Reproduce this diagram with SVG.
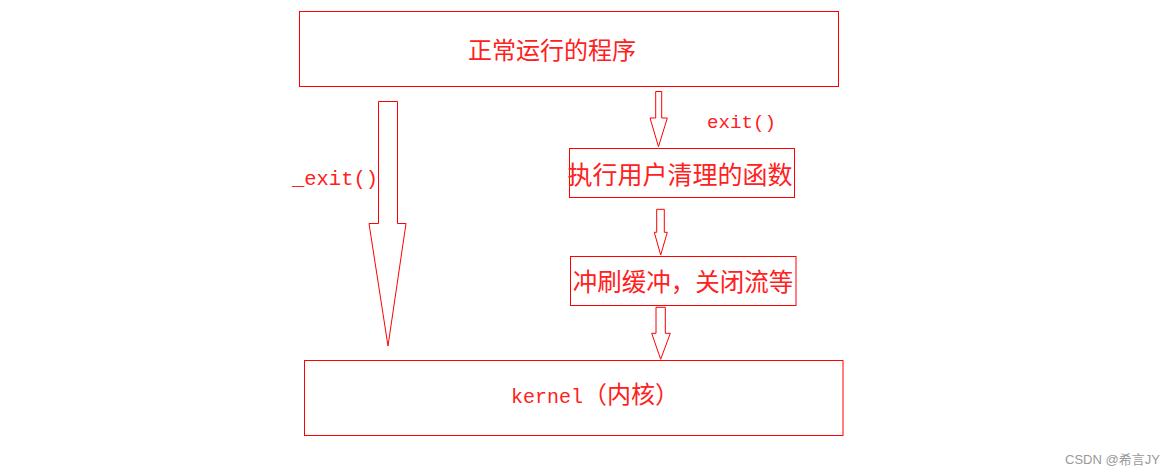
<svg xmlns="http://www.w3.org/2000/svg" width="1173" height="475" viewBox="0 0 1173 475">
<style>
.box{fill:#fff;stroke:#ff0000;stroke-width:1}
.arr{fill:#fff;stroke:#ff0000;stroke-width:1;stroke-linejoin:miter}
.cjk{font-family:"Noto Sans CJK SC","Noto Sans CJK JP",sans-serif;fill:#ff2020;dominant-baseline:central;text-anchor:middle}
.mono{font-family:"Liberation Mono","DejaVu Sans Mono",monospace;fill:#ff2020}
.wm{font-family:"Liberation Sans","Noto Sans CJK SC",sans-serif;fill:#999;font-size:13px}
</style>
<rect width="1173" height="475" fill="#fff"/>
<g id="connectors">
<polygon class="arr" points="378.5,101.5 397.5,101.5 397.5,223.5 406,223.5 388,346 369,223.5 378.5,223.5"/>
<polygon class="arr" points="655.7,91.5 661.7,91.5 661.7,118 667.3,118 658.5,146.7 650,118 655.7,118"/>
<polygon class="arr" points="656.7,209.3 664.3,209.3 664.3,232.3 667.3,232.3 660.7,255 654.3,232.3 656.7,232.3"/>
<polygon class="arr" points="656,307.3 665.3,307.3 665.3,333.3 670.3,333.3 660.7,359.3 651.7,333.3 656,333.3"/>
<text class="mono" x="292" y="185" font-size="20" textLength="86" lengthAdjust="spacingAndGlyphs">_exit()</text>
<text class="mono" x="707" y="128" font-size="19" textLength="69" lengthAdjust="spacingAndGlyphs">exit()</text>
</g>
<g id="node-program">
<rect class="box" x="299.5" y="11.5" width="539" height="75"/>
<text class="cjk" x="552" y="48" font-size="24">正常运行的程序</text>
</g>
<g id="node-cleanup">
<rect class="box" x="569.5" y="148.5" width="225" height="49"/>
<text class="cjk" x="680" y="173" font-size="25">执行用户清理的函数</text>
</g>
<g id="node-flush">
<rect class="box" x="570.5" y="256.5" width="225.5" height="49"/>
<text class="cjk" x="683" y="280.5" font-size="24.5">冲刷缓冲，关闭流等</text>
</g>
<g id="node-kernel">
<rect class="box" x="304.5" y="360.5" width="538.5" height="75"/>
<text x="511" y="403" class="mono" font-size="20"><tspan>kernel</tspan><tspan font-family="Noto Sans CJK SC, sans-serif" font-size="24">（内核）</tspan></text>
</g>
<text class="wm" x="1065" y="464">CSDN @希言JY</text>
</svg>
